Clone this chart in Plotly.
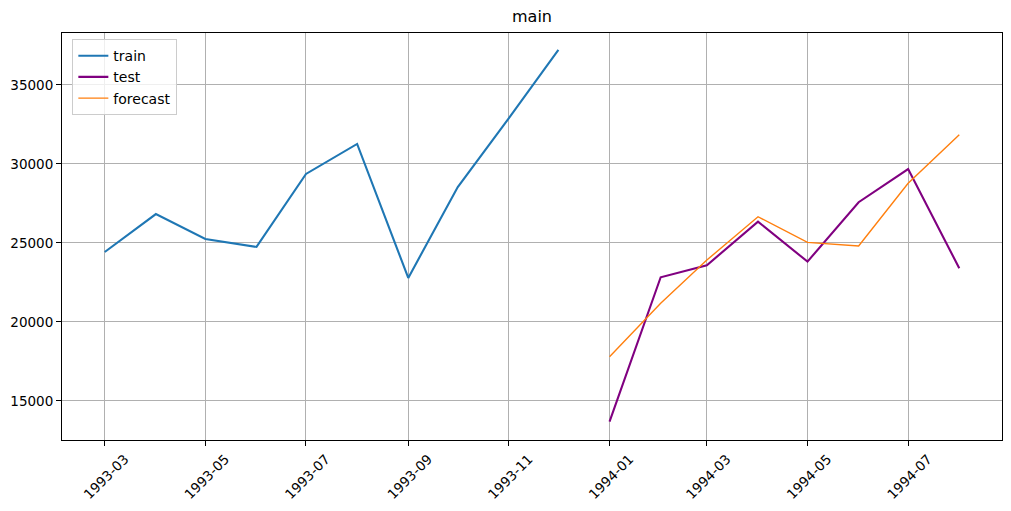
import plotly.graph_objects as go
import pandas as pd

train_dates = ["1993-03-01", "1993-04-01", "1993-05-01", "1993-06-01", "1993-07-01",
               "1993-08-01", "1993-09-01", "1993-10-01", "1993-11-01", "1993-12-01"]
train_values = [24430, 26830, 25250, 24750, 29370, 31270, 22790, 28540, 32900, 37220]

test_dates = ["1994-01-01", "1994-02-01", "1994-03-01", "1994-04-01",
              "1994-05-01", "1994-06-01", "1994-07-01", "1994-08-01"]
test_values = [13690, 22830, 23590, 26350, 23820, 27580, 29680, 23400]

forecast_dates = test_dates
forecast_values = [17800, 21180, 23920, 26660, 25040, 24810, 28780, 31850]

y_ticks = [15000, 20000, 25000, 30000, 35000]

font = "DejaVu Sans"

fig = go.Figure()
fig.add_trace(go.Scatter(x=train_dates, y=train_values, mode="lines", name="train",
                         line=dict(color="#1f77b4", width=2.1)))
fig.add_trace(go.Scatter(x=test_dates, y=test_values, mode="lines", name="test",
                         line=dict(color="#800080", width=2.1)))
fig.add_trace(go.Scatter(x=forecast_dates, y=forecast_values, mode="lines", name="forecast",
                         line=dict(color="#ff7f0e", width=1.4)))

xmin = pd.Timestamp("1993-03-01")
xmax = pd.Timestamp("1994-08-01")
pad = (xmax - xmin) * 0.05
ymin, ymax = 12530, 38290

fig.update_layout(
    width=1003, height=503,
    margin=dict(l=54, r=9, t=25, b=71, autoexpand=False),
    paper_bgcolor="white", plot_bgcolor="white",
    font=dict(family=font, size=14, color="black"),
    title=dict(text="main", x=0.5, xref="paper", y=1, yref="container",
               yanchor="top", pad=dict(t=3), font=dict(size=16, family=font)),
    showlegend=True,
    legend=dict(x=0.011, y=0.985, xanchor="left", yanchor="top",
                bgcolor="rgba(255,255,255,0.8)", bordercolor="#cccccc", borderwidth=1,
                font=dict(size=14, family=font), tracegroupgap=0,
                itemwidth=30),
)
fig.update_xaxes(
    range=[xmin - pad, xmax + pad],
    tickformat="%Y-%m", dtick="M2", tick0="1993-03-01",
    tickangle=-45, ticklabelshift=20, automargin=False,
    tickfont=dict(size=13.5, family=font),
    showgrid=True, gridcolor="#b0b0b0", gridwidth=0.8,
    showline=True, linecolor="black", linewidth=1, mirror=True,
    ticks="outside", ticklen=5, tickcolor="black",
    zeroline=False,
)
fig.update_yaxes(
    range=[ymin, ymax], automargin=False,
    tickvals=y_ticks, ticktext=[str(v) for v in y_ticks],
    tickfont=dict(size=13.5, family=font),
    showgrid=True, gridcolor="#b0b0b0", gridwidth=0.8,
    showline=True, linecolor="black", linewidth=1, mirror=True,
    ticks="outside", ticklen=5, tickcolor="black",
    zeroline=False,
)

fig.write_html("out.html")
